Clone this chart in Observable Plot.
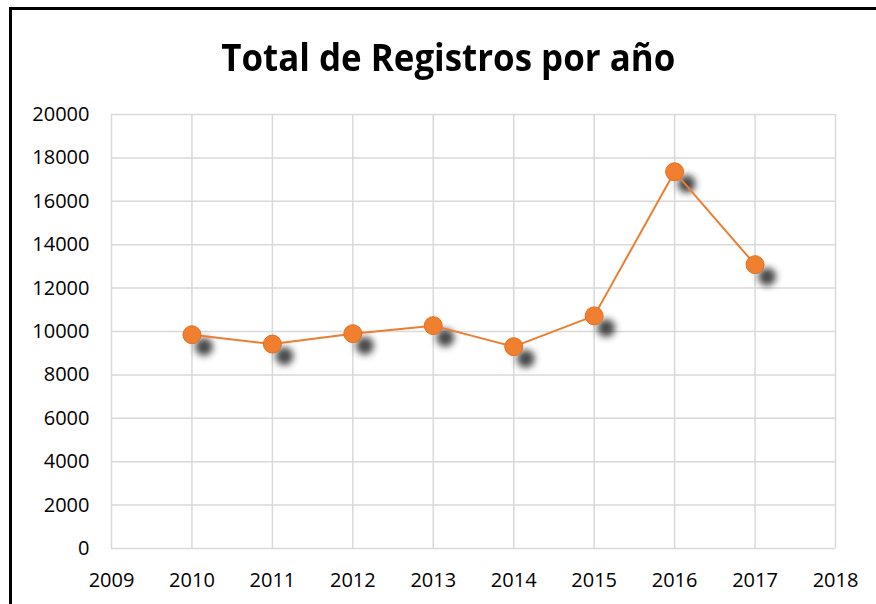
<!DOCTYPE html>
<html>
<head>
<meta charset="utf-8">
<script src="https://cdn.jsdelivr.net/npm/d3@7"></script>
<script src="https://cdn.jsdelivr.net/npm/@observablehq/plot@0.6"></script>
<style>
  html, body { margin: 0; padding: 0; background: #fff; }
  #wrap { position: relative; width: 876px; height: 604px; overflow: hidden; font-family: "Open Sans", sans-serif; }
  #frame { position: absolute; left: 9px; top: 7px; width: 900px; height: 700px; border: 3px solid #000; box-sizing: border-box; }
  #title { position: absolute; left: 0; top: 0; width: 876px; height: 100px; }
  #title span { position: absolute; left: 448px; top: 31px; font-weight: bold; font-size: 38px; line-height: 50px; white-space: nowrap; color: #000; transform-origin: center; }
  #chart { position: absolute; left: 0; top: 100px; }
</style>
</head>
<body>
<div id="wrap">
  <div id="frame"></div>
  <div id="title"><span id="t">Total de Registros por año</span></div>
  <div id="chart"></div>
</div>
<script>
const years = [2010, 2011, 2012, 2013, 2014, 2015, 2016, 2017];
const registros = [9850, 9420, 9900, 10270, 9300, 10720, 17360, 13080];
const xTicks = [2009, 2010, 2011, 2012, 2013, 2014, 2015, 2016, 2017, 2018];
const yTicks = [0, 2000, 4000, 6000, 8000, 10000, 12000, 14000, 16000, 18000, 20000];

const data = years.map((y, i) => ({year: y, value: registros[i]}));

// title fit
const t = document.getElementById("t");
const w = t.getBoundingClientRect().width;
const targetW = 454, centerX = 448;
const s = targetW / w;
t.style.left = (centerX - w / 2) + "px";
t.style.transform = `scaleX(${s})`;

const plot = Plot.plot({
  width: 876,
  height: 504,
  marginLeft: 111,
  marginRight: 41,
  marginTop: 14,
  marginBottom: 56,
  style: {fontFamily: "Open Sans, sans-serif", fontSize: "20px", color: "#000", background: "transparent", overflow: "visible"},
  x: {domain: [2009, 2018], ticks: xTicks, tickFormat: d => String(d), tickSize: 0, tickPadding: 24, label: null},
  y: {domain: [0, 20000], ticks: yTicks, tickFormat: d => String(d), tickSize: 0, tickPadding: 22, label: null},
  marks: [
    Plot.ruleX(xTicks, {stroke: "#d9d9d9", strokeWidth: 1.5}),
    Plot.ruleY(yTicks, {stroke: "#d9d9d9", strokeWidth: 1.5}),
    Plot.dot(data, {x: "year", y: "value", r: 9, fill: "#333", dx: 12, dy: 12, stroke: "none"}),
    Plot.line(data, {x: "year", y: "value", stroke: "#ED7D31", strokeWidth: 2}),
    Plot.dot(data, {x: "year", y: "value", r: 9, fill: "#F08030", stroke: "#E06E1E", strokeWidth: 1})
  ]
});

const svg = d3.select(plot);
const defs = svg.insert("defs", ":first-child");
defs.append("filter").attr("id", "shadowBlur").attr("x", "-50%").attr("y", "-50%").attr("width", "200%").attr("height", "200%")
  .append("feGaussianBlur").attr("stdDeviation", 3.5);
svg.selectAll('g[aria-label="dot"]').filter((d, i) => i === 0)
  .attr("filter", "url(#shadowBlur)").attr("opacity", 0.9);
svg.selectAll('g[aria-label$="tick label"]').attr("font-size", "20px");
svg.selectAll('g[aria-label$="tick label"] text').attr("fill", "#000").style("font-size", "20px");

document.getElementById("chart").appendChild(plot);
</script>
</body>
</html>
